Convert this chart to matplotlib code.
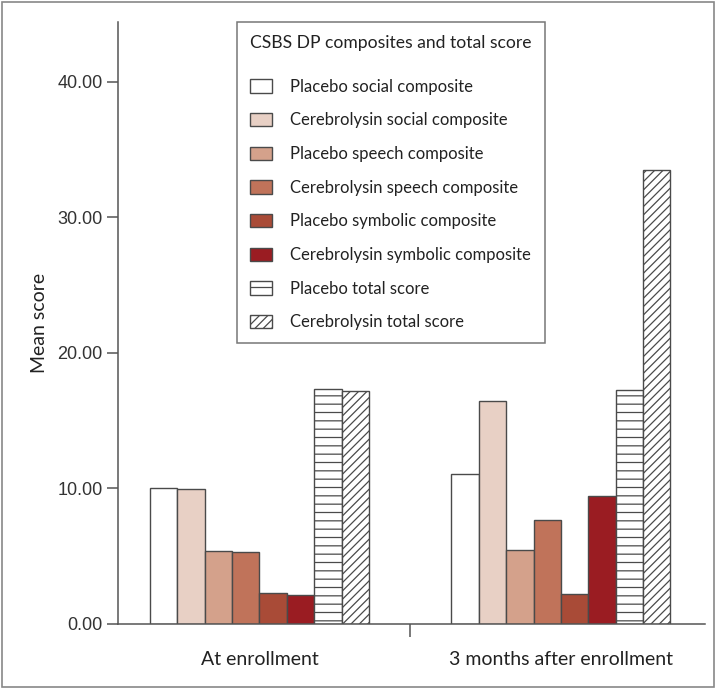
import matplotlib
matplotlib.use("Agg")
import matplotlib.pyplot as plt
import numpy as np
from matplotlib.patches import Rectangle

# data
groups = ["At enrollment", "3 months after enrollment"]
series = [
    "Placebo social composite",
    "Cerebrolysin social composite",
    "Placebo speech composite",
    "Cerebrolysin speech composite",
    "Placebo symbolic composite",
    "Cerebrolysin symbolic composite",
    "Placebo total score",
    "Cerebrolysin total score",
]
placebo_social = [10.05, 11.07]
cerebro_social = [9.98, 16.46]
placebo_speech = [5.38, 5.46]
cerebro_speech = [5.34, 7.68]
placebo_symbolic = [2.30, 2.21]
cerebro_symbolic = [2.13, 9.45]
placebo_total = [17.3, 17.27]
cerebro_total = [17.2, 33.5]
yticks = [0, 10, 20, 30, 40]

values = [placebo_social, cerebro_social, placebo_speech, cerebro_speech,
          placebo_symbolic, cerebro_symbolic, placebo_total, cerebro_total]
colors = ["#ffffff", "#e8d0c5", "#d4a18b", "#c0735a", "#a94b37", "#9a1c22",
          "#ffffff", "#ffffff"]
hatches = [None, None, None, None, None, None, "--", "////"]

text_font = ["Lato", "DejaVu Sans"]
tick_font = ["Liberation Sans", "DejaVu Sans"]
edge = "#4a4a4a"
plt.rcParams["hatch.linewidth"] = 0.9
plt.rcParams["hatch.color"] = edge

fig = plt.figure(figsize=(7.16, 6.89), dpi=100)
ax = fig.add_axes([118 / 716, 65 / 689, 587 / 716, 602 / 689])

x = np.arange(len(groups))
width = 0.0908
for i, (vals, c, h) in enumerate(zip(values, colors, hatches)):
    offs = (i - 3.5) * width
    ax.bar(x + offs, vals, width, color=c, edgecolor=edge, linewidth=1.0,
           hatch=h, label=series[i], zorder=2)

ax.set_xlim(-0.469, 1.478)
ax.set_ylim(0, 44.4)

for s in ["top", "right"]:
    ax.spines[s].set_visible(False)
for s in ["left", "bottom"]:
    ax.spines[s].set_color("#555555")
    ax.spines[s].set_linewidth(1.1)

ax.set_yticks(yticks)
ax.set_yticklabels([f"{v:.2f}" for v in yticks], fontfamily=tick_font,
                   fontsize=13, color="#333333")
ax.tick_params(axis="y", length=8, width=1.1, color="#555555", pad=3)
ax.set_xticks([0.5])
ax.set_xticklabels([""])
ax.tick_params(axis="x", length=9, width=1.1, color="#555555")

for xi, g in zip(x, groups):
    ax.text(xi, -2.6, g, ha="center", va="center", fontsize=14,
            fontfamily=text_font, color="#222222")

ax.set_ylabel("Mean score", fontsize=14, fontfamily=text_font,
              color="#222222", labelpad=7)

leg = ax.legend(loc="upper left", bbox_to_anchor=(237 / 716, 1 - 22 / 689),
                bbox_transform=fig.transFigure,
                title="CSBS DP composites and total score",
                alignment="left", frameon=True, fancybox=False,
                edgecolor="#555555", handlelength=1.32, handleheight=0.85,
                handletextpad=1.05, labelspacing=1.06, borderpad=0.78,
                borderaxespad=0,
                prop={"family": text_font, "size": 12},
                title_fontproperties={"family": text_font, "size": 12.6})
leg.get_frame().set_linewidth(1.1)
leg.get_title().set_color("#222222")
for t in leg.get_texts():
    t.set_color("#222222")
leg._legend_box.sep = 20

fig.patches.append(Rectangle((2 / 716, 2 / 689), 712 / 716, 685 / 689,
                             transform=fig.transFigure, fill=False,
                             edgecolor="#888888", linewidth=1.2))

fig.savefig("out.png", dpi=100)
